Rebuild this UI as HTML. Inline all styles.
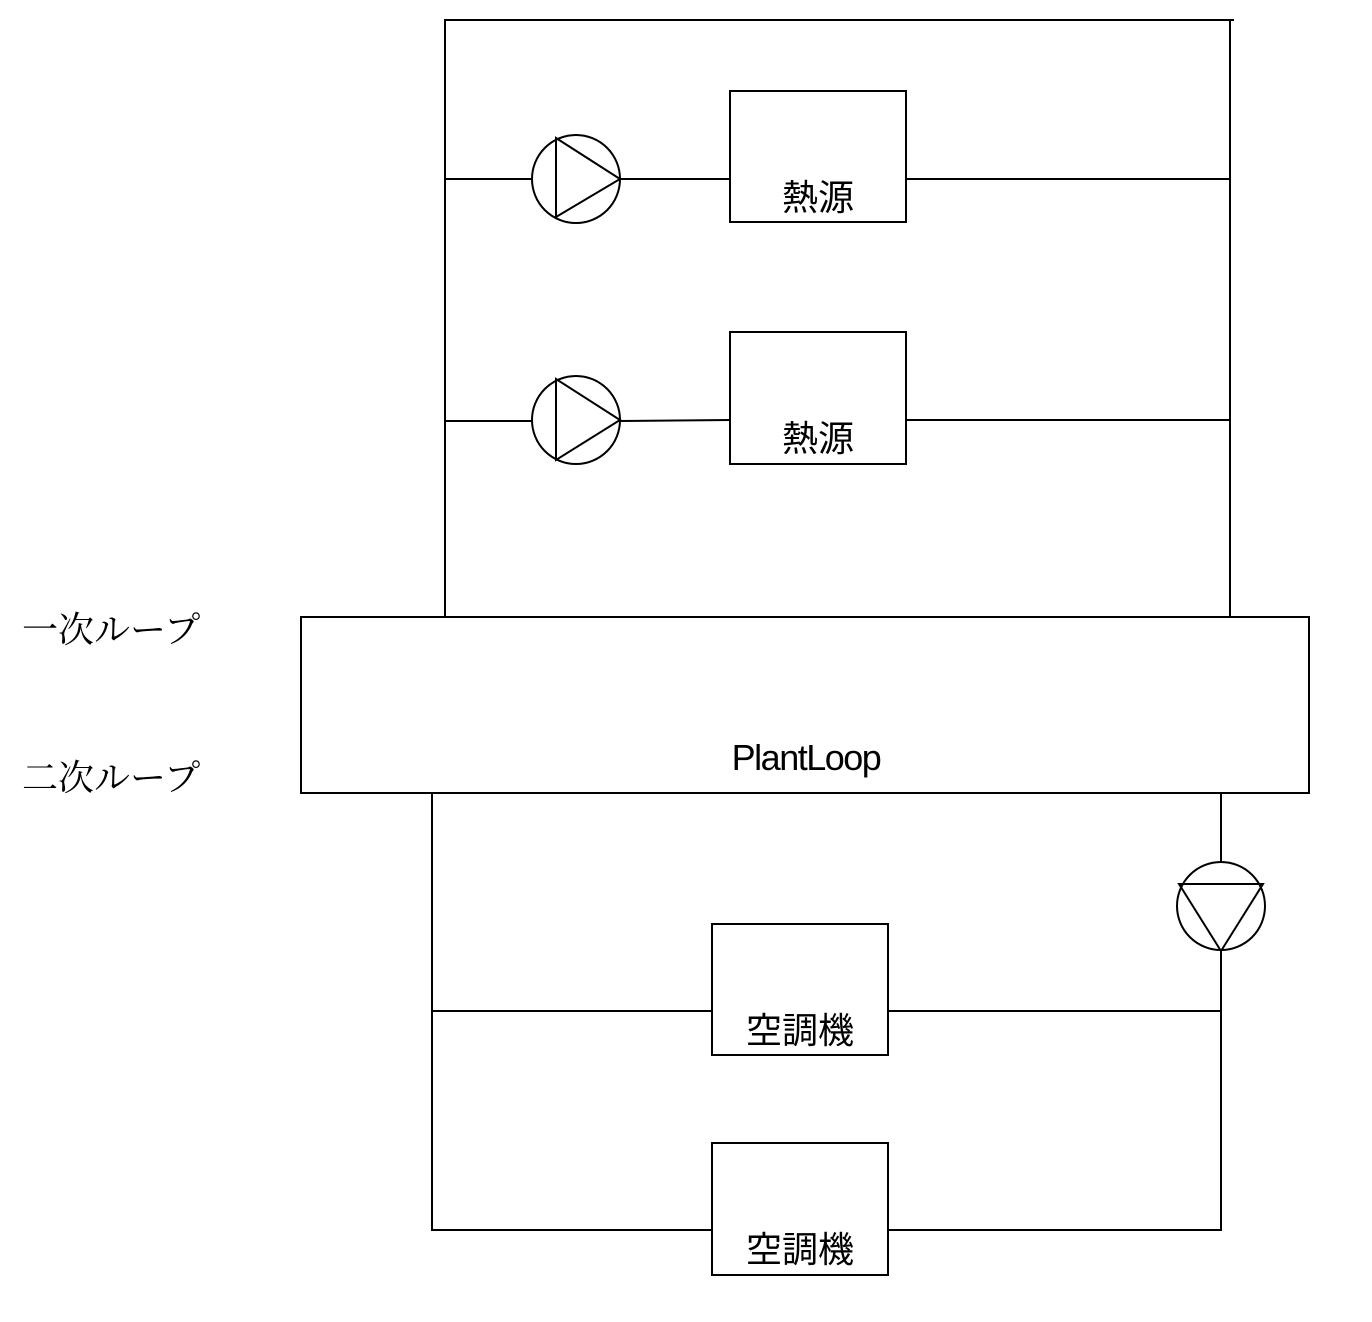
<!DOCTYPE html>
<html><head><meta charset="utf-8"><style>
html,body{margin:0;padding:0;background:#fff;}
svg{display:block;}
.j{font-family:"Liberation Sans","Noto Sans CJK JP",sans-serif;font-size:36px;}
.s{font-family:"Liberation Serif","Noto Serif CJK SC",serif;font-size:36px;}
</style></head><body>
<svg width="1372" height="1322" viewBox="0 0 1372 1322" xmlns="http://www.w3.org/2000/svg">
<g fill="none" stroke="#000" stroke-width="2">
<line x1="444" y1="20" x2="1234" y2="20"/>
<line x1="445" y1="20" x2="445" y2="617"/>
<line x1="1230" y1="20" x2="1230" y2="617"/>
<line x1="445" y1="179" x2="532" y2="179"/>
<line x1="620" y1="179" x2="730" y2="179"/>
<line x1="906" y1="179" x2="1230" y2="179"/>
<circle cx="576" cy="179" r="44"/>
<polygon points="556,138 556,217 620,179"/>
<rect x="730" y="91" width="176" height="131"/>
<line x1="445" y1="421" x2="532" y2="421"/>
<line x1="620" y1="421" x2="730" y2="420"/>
<line x1="906" y1="420" x2="1230" y2="420"/>
<circle cx="576" cy="420" r="44"/>
<polygon points="556,379 556,460 620,420"/>
<rect x="730" y="332" width="176" height="132"/>
<rect x="301" y="617" width="1008" height="176"/>
<line x1="432" y1="793" x2="432" y2="1231"/>
<line x1="1221" y1="793" x2="1221" y2="862"/>
<line x1="1221" y1="950" x2="1221" y2="1231"/>
<circle cx="1221" cy="906" r="44"/>
<polygon points="1179,884 1263,884 1221,951"/>
<rect x="712" y="924" width="176" height="131"/>
<line x1="432" y1="1011" x2="712" y2="1011"/>
<line x1="888" y1="1011" x2="1221" y2="1011"/>
<rect x="712" y="1143" width="176" height="132"/>
<line x1="432" y1="1230" x2="712" y2="1230"/>
<line x1="888" y1="1230" x2="1221" y2="1230"/>
</g>
<g fill="#000">
<text class="j" x="818" y="210" text-anchor="middle">熱源</text>
<text class="j" x="818" y="451" text-anchor="middle">熱源</text>
<text class="j" x="800" y="1043" text-anchor="middle">空調機</text>
<text class="j" x="800" y="1262" text-anchor="middle">空調機</text>
<text x="806" y="770" text-anchor="middle" font-family="Liberation Sans,sans-serif" font-size="36" letter-spacing="-1.5">PlantLoop</text>
<text class="s" x="22" y="642">一次ループ</text>
<text class="s" x="22" y="790">二次ループ</text>
</g>
</svg>
</body></html>
